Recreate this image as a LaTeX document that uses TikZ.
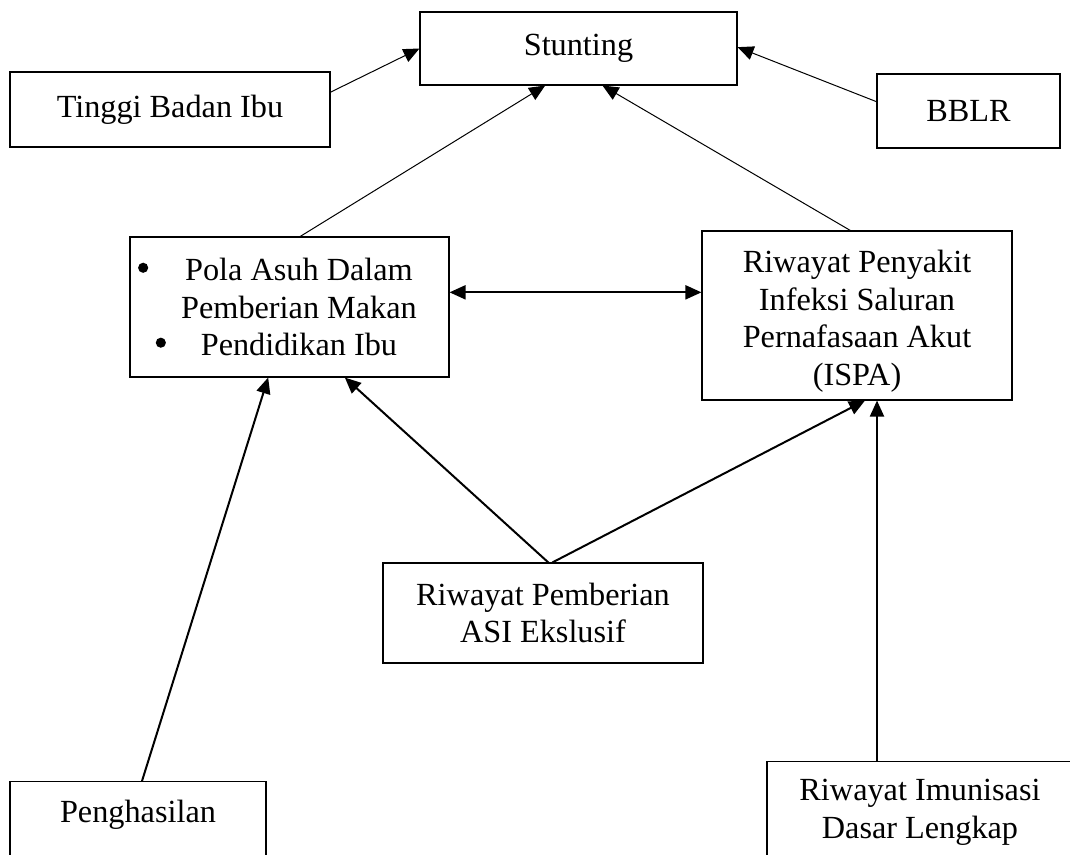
\documentclass[tikz,border=0pt]{standalone}
\usepackage{fontspec}
\setmainfont{Liberation Serif}
\usepackage{tikz}
\usetikzlibrary{arrows.meta}

\newcommand{\hurufbesar}{\fontsize{24.2pt}{28.1pt}\selectfont}
\newcommand{\titik}{\raisebox{0.24em}{\tikz\fill (0,0) circle (3.8pt);}}
\tikzset{
    kotak/.style={draw, line width=0.8pt, align=center, inner sep=0pt},
    tipis/.style={-{Triangle[length=12pt,width=10.5pt]}, line width=0.75pt},
    tebal/.style={-{Triangle[length=12pt,width=10.5pt]}, line width=1.5pt},
    duaarah/.style={{Triangle[length=12pt,width=10.5pt]}-{Triangle[length=12pt,width=10.5pt]}, line width=1.5pt},
}

\begin{document}
\begin{tikzpicture}[x=0.75pt, y=-0.75pt, every node/.style={font=\hurufbesar}]
                \clip (0,0) rectangle (1070,854);

                \node[kotak, minimum width=237.75pt, minimum height=54.75pt] (stunting) at (578.5,48.5) {Stunting};
                \node[kotak, minimum width=240pt, minimum height=56.25pt] (tinggi) at (170,109.5) {Tinggi Badan Ibu};
                \node[kotak, minimum width=137.25pt, minimum height=55.5pt] (bblr) at (968.5,111) {BBLR};
                \node[kotak, minimum width=239.25pt, minimum height=105pt] (pola) at (289.5,307)
                    {\hspace*{14.2pt}\llap{\titik\hspace{27.7pt}}Pola Asuh Dalam\\ \hspace*{14.2pt}Pemberian Makan\\ \hspace*{14.2pt}\llap{\titik\hspace{26.2pt}}Pendidikan Ibu};
                \node[kotak, minimum width=232.5pt, minimum height=126.75pt] (ispa) at (857,315.5)
                    {\rule{0pt}{25.5pt}Riwayat Penyakit\\ Infeksi Saluran\\ Pernafasaan Akut\\ (ISPA)};
                \node[kotak, minimum width=240pt, minimum height=75pt] (asi) at (543,613) {Riwayat Pemberian\\ ASI Ekslusif};
                \node[kotak, minimum width=192pt, text height=30.75pt, text depth=25.5pt, anchor=north] (penghasilan) at (138,781) {Penghasilan};
                \node[kotak, minimum width=229.5pt, inner ysep=13.5pt, anchor=north] (imunisasi) at (920,761)
                    {Riwayat Imunisasi\\ Dasar Lengkap};

                \path
                    ([yshift=13pt]tinggi.east) edge[tipis] (stunting.west)
                    ([yshift=7pt]bblr.west) edge[tipis] ([yshift=1pt]stunting.east)
                    ([xshift=8pt]pola.north) edge[tipis] ([xshift=-25pt]stunting.south)
                    ([xshift=-5pt]ispa.north) edge[tipis] ([xshift=18pt]stunting.south)
                    ([yshift=11pt]pola.east) edge[duaarah] ([yshift=11pt]pola.east -| ispa.west)
                    ([xshift=3pt]penghasilan.north) edge[tebal] ([xshift=-16pt]pola.south)
                    ([xshift=4pt]asi.north) edge[tebal] ([xshift=41.5pt]pola.south)
                    ([xshift=7pt]asi.north) edge[tebal] ([xshift=6pt]ispa.south)
                    ([xshift=15pt]ispa.south |- imunisasi.north) edge[tebal] ([xshift=15pt]ispa.south)
                    ;
            \end{tikzpicture}
\end{document}
